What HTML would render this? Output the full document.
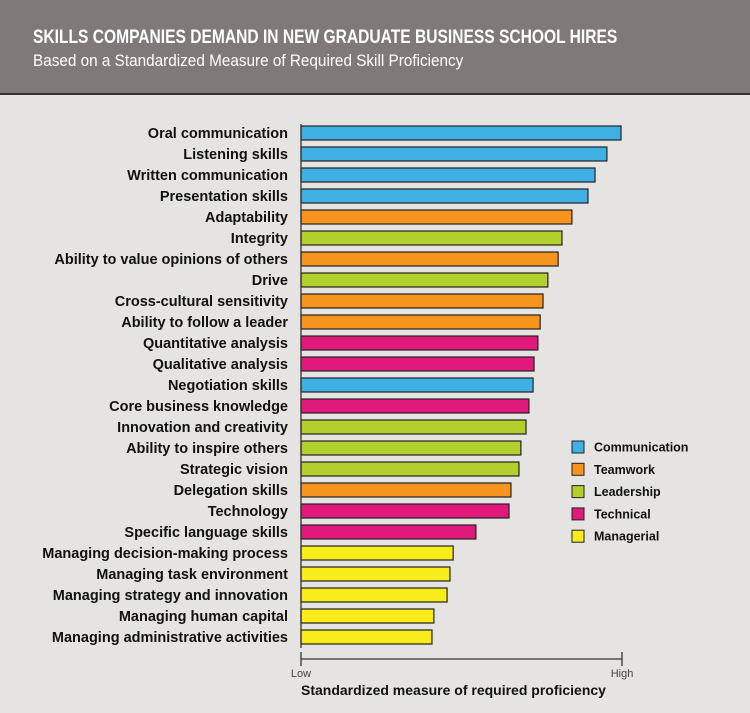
<!DOCTYPE html>
<html><head><meta charset="utf-8"><style>
body{margin:0;width:750px;height:713px;background:#e5e4e2;font-family:"Liberation Sans",sans-serif;overflow:hidden}
#hdr{position:absolute;left:0;top:0;width:750px;height:93px;background:#7f7a79;border-bottom:2px solid #333}
#t1{position:absolute;left:33px;top:27px;color:#fff;font-weight:bold;font-size:19px;transform:scaleX(0.82);transform-origin:left;white-space:nowrap}
#t2{position:absolute;left:33px;top:51px;color:#fff;font-size:17px;transform:scaleX(0.9);transform-origin:left;white-space:nowrap}
</style></head><body>
<div id="hdr">
<div id="t1">SKILLS COMPANIES DEMAND IN NEW GRADUATE BUSINESS SCHOOL HIRES</div>
<div id="t2">Based on a Standardized Measure of Required Skill Proficiency</div>
</div>
<svg id="chart" width="750" height="713" style="position:absolute;left:0;top:0"></svg>
<script>
const categories=["Oral communication","Listening skills","Written communication","Presentation skills","Adaptability","Integrity","Ability to value opinions of others","Drive","Cross-cultural sensitivity","Ability to follow a leader","Quantitative analysis","Qualitative analysis","Negotiation skills","Core business knowledge","Innovation and creativity","Ability to inspire others","Strategic vision","Delegation skills","Technology","Specific language skills","Managing decision-making process","Managing task environment","Managing strategy and innovation","Managing human capital","Managing administrative activities"];
const values=[99.7,95.3,91.6,89.4,84.4,81.3,80.1,76.9,75.4,74.5,73.8,72.6,72.3,71.0,70.1,68.5,67.9,65.4,64.8,54.5,47.4,46.4,45.5,41.4,40.8];
const groups=["Communication","Communication","Communication","Communication","Teamwork","Leadership","Teamwork","Leadership","Teamwork","Teamwork","Technical","Technical","Communication","Technical","Leadership","Leadership","Leadership","Teamwork","Technical","Technical","Managerial","Managerial","Managerial","Managerial","Managerial"];
const legendNames=["Communication","Teamwork","Leadership","Technical","Managerial"];
const legendColors=["#3fb0e4","#f7941d","#b3cf2c","#e0197b","#f9ec1b"];
const NS="http://www.w3.org/2000/svg",svg=document.getElementById('chart');
const x0=301,x1=622;
function xs(v){return x0+(x1-x0)*v/100;}
function ys(i){return 133+i*21;}
function mk(t,a,p){const e=document.createElementNS(NS,t);for(const k in a)e.setAttribute(k,a[k]);(p||svg).appendChild(e);return e;}
categories.forEach((c,i)=>{
  const r=mk('rect',{x:x0,y:ys(i)-7,width:xs(values[i])-x0,height:14,fill:legendColors[legendNames.indexOf(groups[i])],stroke:'#222','stroke-width':1.2});
  
  
  const t=mk('text',{x:288,y:ys(i)+5,'text-anchor':'end','font-size':14.5,'font-weight':'bold',fill:'#111'});
  t.textContent=c;
  
  
});
const ax=mk('path',{d:`M${x0} 124V648M${x0} 652V666M${x0} 659H${x1}M${x1} 652V666`,stroke:'#333','stroke-width':1.3,fill:'none'});


const lo=mk('text',{x:301,y:677,'text-anchor':'middle','font-size':11,fill:'#444'});lo.textContent='Low';


const hi=mk('text',{x:622,y:677,'text-anchor':'middle','font-size':11,fill:'#444'});hi.textContent='High';


const xt=mk('text',{x:301,y:695,'font-size':14,'font-weight':'bold',fill:'#111'});xt.textContent='Standardized measure of required proficiency';


legendNames.forEach((n,i)=>{
  const y=447+i*22.3;
  const r=mk('rect',{x:572,y:y-6,width:12,height:12,fill:legendColors[i],stroke:'#222','stroke-width':1});
  
  
  const t=mk('text',{x:594,y:y+4.5,'font-size':12.5,'font-weight':'bold',fill:'#111'});t.textContent=n;
  
  
});
</script>
</body></html>
